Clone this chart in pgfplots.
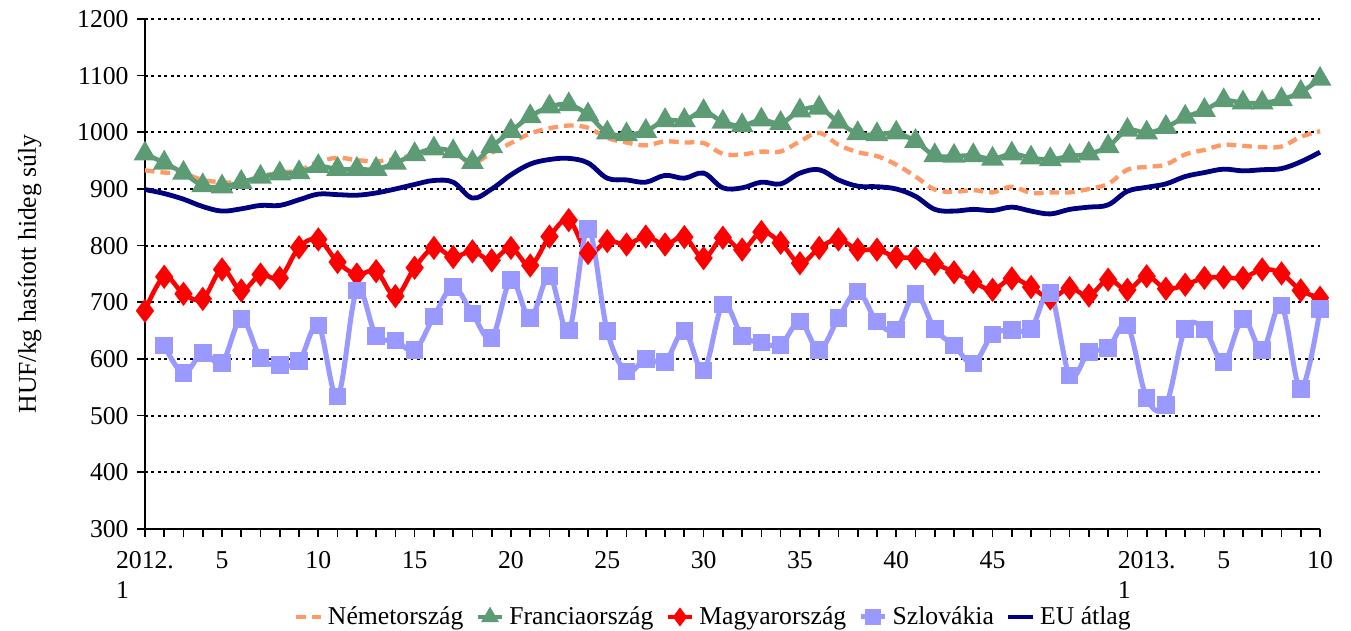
\documentclass[border=0pt]{standalone}
\usepackage{fontspec}
\setmainfont{Liberation Serif}
\usepackage{pgfplots}
\usepackage{pgfplotstable}
\pgfplotsset{compat=1.18}
\definecolor{cDE}{RGB}{255,153,102}
\definecolor{cFR}{RGB}{92,155,115}
\definecolor{cHU}{RGB}{255,0,0}
\definecolor{cSK}{RGB}{153,153,255}
\definecolor{cEU}{RGB}{0,0,128}
\newcommand\cf{\fontsize{10.7}{12.4}\selectfont}

\pgfplotstableread{
x y
1 933
2 929
3 927
4 916
5 912
6 912
7 922
8 929
9 933
10 948
11 955
12 951
13 949
14 953
15 961
16 969
17 964
18 946
19 964
20 981
21 998
22 1007
23 1012
24 1008
25 990
26 982
27 977
28 984
29 982
30 981
31 962
32 961
33 966
34 966
35 984
36 999
37 978
38 965
39 958
40 943
41 922
42 899
43 895
44 898
45 894
46 904
47 893
48 894
49 894
50 900
51 909
52 934
53 939
54 943
55 961
56 969
57 978
58 976
59 974
60 975
61 992
62 1002
}\tDE

\pgfplotstableread{
x y
1 962
2 946
3 928
4 906
5 904
6 912
7 921
8 927
9 929
10 940
11 935
12 935
13 935
14 946
15 961
16 971
17 966
18 947
19 975
20 1002
21 1028
22 1045
23 1049
24 1031
25 999
26 996
27 1002
28 1021
29 1021
30 1037
31 1018
32 1012
33 1022
34 1016
35 1038
36 1043
37 1018
38 998
39 996
40 999
41 984
42 959
43 958
44 959
45 953
46 962
47 955
48 952
49 958
50 962
51 975
52 1004
53 999
54 1009
55 1027
56 1039
57 1056
58 1052
59 1052
60 1058
61 1071
62 1094
}\tFR

\pgfplotstableread{
x y
1 685
2 745
3 715
4 706
5 758
6 721
7 749
8 743
9 797
10 811
11 771
12 749
13 755
14 711
15 761
16 796
17 780
18 790
19 774
20 796
21 765
22 816
23 845
24 787
25 808
26 802
27 816
28 802
29 815
30 778
31 814
32 793
33 824
34 805
35 769
36 796
37 811
38 793
39 793
40 780
41 778
42 768
43 753
44 736
45 722
46 742
47 727
48 707
49 725
50 712
51 740
52 722
53 746
54 724
55 731
56 743
57 744
58 743
59 758
60 751
61 721
62 708
}\tHU

\pgfplotstableread{
x y
2 624
3 575
4 611
5 593
6 671
7 602
8 589
9 596
10 659
11 534
12 721
13 641
14 633
15 616
16 675
17 727
18 680
19 637
20 739
21 672
22 746
23 650
24 829
25 649
26 578
27 600
28 595
29 649
30 580
31 696
32 641
33 629
34 625
35 666
36 616
37 672
38 719
39 666
40 652
41 715
42 653
43 624
44 592
45 643
46 651
47 653
48 716
49 571
50 612
51 619
52 659
53 531
54 519
55 653
56 652
57 595
58 671
59 616
60 694
61 547
62 688
}\tSK

\pgfplotstableread{
x y
1 899
2 892
3 882
4 869
5 861
6 865
7 871
8 871
9 881
10 891
11 890
12 889
13 893
14 900
15 908
16 915
17 912
18 884
19 900
20 925
21 944
22 952
23 954
24 946
25 919
26 916
27 912
28 924
29 919
30 928
31 902
32 902
33 912
34 909
35 928
36 934
37 916
38 905
39 904
40 900
41 887
42 864
43 861
44 864
45 862
46 868
47 861
48 856
49 864
50 868
51 872
52 896
53 903
54 909
55 922
56 929
57 935
58 932
59 934
60 936
61 948
62 965
}\tEU

\begin{document}
\begin{tikzpicture}
\useasboundingbox (-60.4pt,-42.5pt) rectangle (502.5pt,220.4pt);
\begin{axis}[
  scale only axis, width=489.6pt, height=212.5pt,
  xmin=1, xmax=62, ymin=300, ymax=1200,
  axis x line=bottom, axis y line=left,
  axis line style={-, black, line width=0.8pt},
  ytick={300,400,...,1200},
  ymajorgrids, grid style={black, line width=0.9pt, dash pattern=on 1.1pt off 1.6pt},
  xtick={1,5,10,15,20,25,30,35,40,45,53,57,62},
  xticklabels={{2012.\\1},5,10,15,20,25,30,35,40,45,{2013.\\1},5,10},
  minor xtick={1,...,62},
  tick align=outside, major tick length=3.3pt, minor tick length=3.3pt,
  tick style={black, line width=0.7pt},
  xticklabel style={align=left, font=\cf, yshift=-2.5pt},
  yticklabel style={font=\cf},
  /pgf/number format/assume math mode=true,
  /pgf/number format/1000 sep={},
  ylabel={HUF/kg hasított hideg súly},
  ylabel style={font=\cf, at={(axis description cs:-0.098,0.5)}, anchor=center},
  legend style={at={(0.485,-0.1725)}, anchor=center, draw=none, fill=none,
    legend columns=5, font=\cf, inner sep=0pt,
    /tikz/every even column/.append style={column sep=3pt}},
  legend cell align=left,
  legend image code/.code={\draw[mark repeat=2,mark phase=2, mark size=2.4pt] plot coordinates {(0cm,0cm) (0.18cm,0cm) (0.36cm,0cm)};},
  clip=false,
]
\addplot[cDE, line width=1.8pt, dash pattern=on 4pt off 2.5pt, smooth, tension=0.6] table {\tDE};
\addlegendentry{Németország}
\addplot[cFR, line width=1.9pt, smooth, tension=0.6, mark=triangle*, mark size=3.6pt, mark options={solid}] table {\tFR};
\addlegendentry{Franciaország}
\addplot[cHU, line width=1.9pt, smooth, tension=0.6, mark=diamond*, mark size=3.5pt, mark options={solid}] table {\tHU};
\addlegendentry{Magyarország}
\addplot[cSK, line width=2.1pt, smooth, tension=0.6, mark=square*, mark size=2.6pt, mark options={solid}] table {\tSK};
\addlegendentry{Szlovákia}
\addplot[cEU, line width=2pt, smooth, tension=0.6] table {\tEU};
\addlegendentry{EU átlag}
\end{axis}
\end{tikzpicture}
\end{document}
